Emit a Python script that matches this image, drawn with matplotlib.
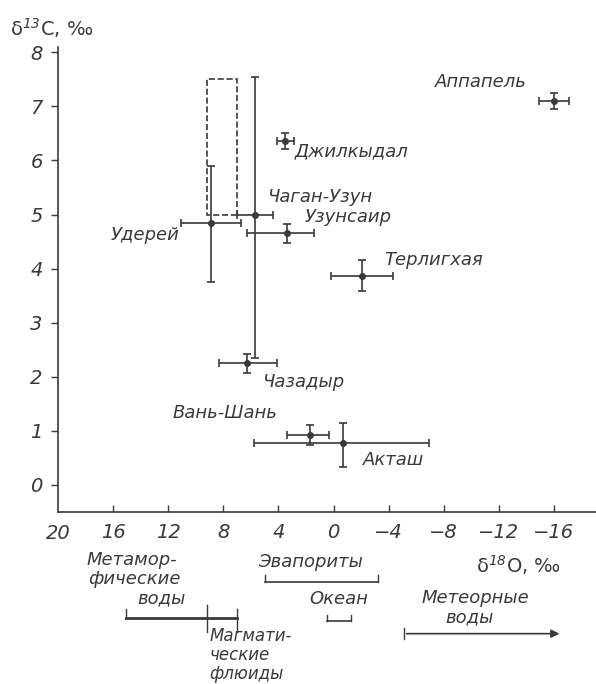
import matplotlib
matplotlib.use('Agg')
import matplotlib.pyplot as plt
from matplotlib.patches import Rectangle

plt.rcParams['font.family'] = 'DejaVu Sans'
plt.rcParams['font.style'] = 'italic'

ink = '#3a3a3a'

# isotope data per deposit: d18O, d13C and their error spans
sites = ['Аппапель', 'Джилкыдал', 'Чаган-Узун', 'Удерей', 'Узунсаир',
         'Терлигхая', 'Чазадыр', 'Вань-Шань', 'Акташ']
d18o = [-16.0, 3.5, 5.7, 8.9, 3.4, -2.1, 6.3, 1.7, -0.7]
d18o_err_lo = [1.1, 0.6, 1.3, 2.2, 2.0, 2.25, 2.2, 1.4, 6.2]
d18o_err_hi = [1.1, 0.6, 1.3, 2.2, 2.9, 2.25, 2.0, 1.65, 6.45]
d13c = [7.1, 6.36, 5.0, 4.85, 4.65, 3.87, 2.25, 0.92, 0.78]
d13c_err_lo = [0.14, 0.15, 2.65, 1.1, 0.17, 0.28, 0.18, 0.19, 0.45]
d13c_err_hi = [0.14, 0.15, 2.55, 1.05, 0.17, 0.28, 0.18, 0.19, 0.37]

# dashed box of the magmatic field
box_o = [7.0, 9.2]
box_c = [5.0, 7.5]

# d18O ranges of water sources
metam = [15.05, 7.0]
magm = [9.2, 7.0]
evap = [5.0, -3.2]
ocean = [0.45, -1.3]
meteor = [-5.1, -16.6]

xticks = [16, 12, 8, 4, 0, -4, -8, -12, -16]
yticks = [0, 1, 2, 3, 4, 5, 6, 7, 8]

# label placement (x, y) for each deposit
label_pos = [(-7.35, 7.45), (2.84, 6.16), (4.8, 5.32), (16.15, 4.62), (2.1, 4.95),
             (-3.7, 4.16), (5.16, 1.9), (11.7, 1.33), (-2.1, 0.46)]

fig = plt.figure(figsize=(5.96, 6.84), dpi=100)
ax = fig.add_axes([0.0973, 0.2515, 0.9027, 0.680])

ax.errorbar(d18o, d13c,
            xerr=[d18o_err_lo, d18o_err_hi],
            yerr=[d13c_err_lo, d13c_err_hi],
            fmt='o', ms=4, color=ink, ecolor=ink, elinewidth=1.2,
            capsize=3.2, capthick=1.2)

ax.add_patch(Rectangle((box_o[0], box_c[0]), box_o[1] - box_o[0], box_c[1] - box_c[0],
                       fill=False, ls='--', lw=1.2, ec=ink))

for name, (lx, ly) in zip(sites, label_pos):
    ax.text(lx, ly, name, fontsize=13, color=ink, ha='left', va='center')

ax.set_xlim(20, -19.05)
ax.set_ylim(-0.5, 8.1)
ax.set_xticks(xticks)
ax.set_yticks(yticks)
ax.spines['top'].set_visible(False)
ax.spines['right'].set_visible(False)
for s in ['left', 'bottom']:
    ax.spines[s].set_color(ink)
    ax.spines[s].set_linewidth(1.2)
ax.tick_params(axis='x', direction='in', length=5, width=1, colors=ink, labelsize=14, pad=8)
ax.tick_params(axis='y', direction='out', length=5, width=1, colors=ink, labelsize=14, pad=6)
ax.text(20, -0.89, '20', fontsize=14, color=ink, ha='center', va='center', clip_on=False)

fig.text(10 / 596, 1 - 28 / 684, 'δ$^{13}$C, ‰', fontsize=14,
         color=ink, ha='left', va='center', style='normal')
ax.text(-13.45, -1.48, 'δ$^{18}$O, ‰', fontsize=14, color=ink, ha='center', va='center',
        style='normal', clip_on=False)

# water source ranges below the axis
kw = dict(color=ink, clip_on=False)
ax.plot(metam, [-2.46, -2.46], lw=2, **kw)
ax.plot([metam[0], metam[0]], [-2.46, -2.30], lw=1, **kw)
ax.plot([magm[0], magm[0]], [-2.22, -2.72], lw=1, **kw)
ax.plot([magm[1], magm[1]], [-2.30, -2.72], lw=1, **kw)
ax.text(17.9, -1.39, 'Метамор-', fontsize=13, color=ink, ha='left', va='center', clip_on=False)
ax.text(17.8, -1.74, 'фические', fontsize=13, color=ink, ha='left', va='center', clip_on=False)
ax.text(14.25, -2.09, 'воды', fontsize=13, color=ink, ha='left', va='center', clip_on=False)
ax.text(9.0, -2.79, 'Магмати-', fontsize=12, color=ink, ha='left', va='center', clip_on=False)
ax.text(9.0, -3.15, 'ческие', fontsize=12, color=ink, ha='left', va='center', clip_on=False)
ax.text(9.0, -3.50, 'флюиды', fontsize=12, color=ink, ha='left', va='center', clip_on=False)

ax.plot(evap, [-1.79, -1.79], lw=1.2, **kw)
for v in evap:
    ax.plot([v, v], [-1.79, -1.67], lw=1, **kw)
ax.text(5.5, -1.42, 'Эвапориты', fontsize=13, color=ink, ha='left', va='center', clip_on=False)

ax.plot(ocean, [-2.51, -2.51], lw=1.2, **kw)
for v in ocean:
    ax.plot([v, v], [-2.51, -2.40], lw=1, **kw)
ax.text(1.75, -2.11, 'Океан', fontsize=13, color=ink, ha='left', va='center', clip_on=False)

ax.annotate('', xy=(meteor[1], -2.75), xytext=(meteor[0], -2.75),
            arrowprops=dict(arrowstyle='-|>', color=ink, lw=1.2, mutation_scale=12),
            annotation_clip=False)
ax.plot([meteor[0], meteor[0]], [-2.65, -2.85], lw=1, **kw)
ax.text(-10.3, -2.09, 'Метеорные', fontsize=13, color=ink, ha='center', va='center', clip_on=False)
ax.text(-9.9, -2.44, 'воды', fontsize=13, color=ink, ha='center', va='center', clip_on=False)

fig.savefig('out.png', dpi=100)
